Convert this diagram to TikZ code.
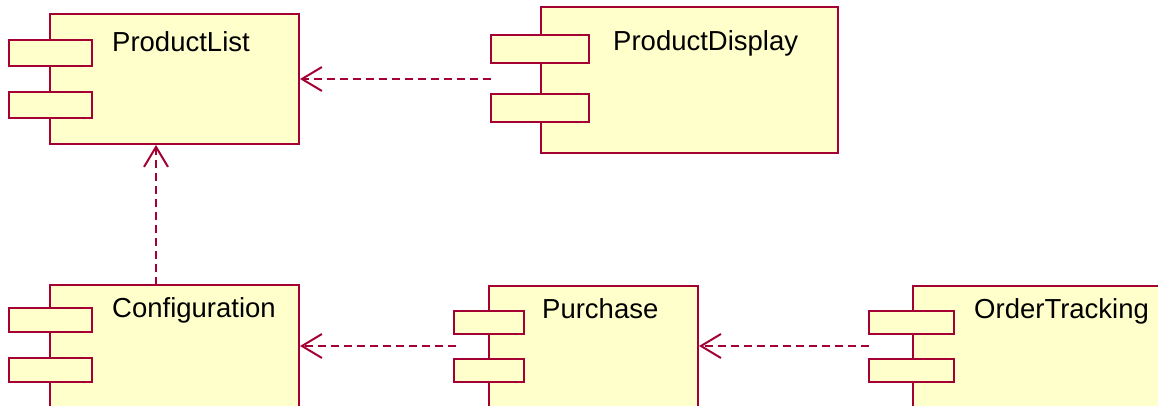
\documentclass[tikz,border=0pt]{standalone}
\usepackage{fontspec}
\setmainfont{Liberation Sans}
\usepackage{xcolor}
\usepackage{tikz}
\usetikzlibrary{arrows.meta}

\definecolor{umlborder}{RGB}{165,0,52}
\definecolor{umlfill}{RGB}{255,255,204}

\begin{document}
\begin{tikzpicture}[x=1pt, y=-1pt,
  body/.style={draw=umlborder, fill=umlfill, line width=2pt, rectangle, inner sep=0pt},
  port/.style={draw=umlborder, fill=umlfill, line width=2pt, rectangle, inner sep=0pt},
  title/.style={anchor=base west, inner sep=0pt, font=\fontsize{27.5}{30}\selectfont},
  dep/.style={draw=umlborder, line width=2pt, dash pattern=on 8pt off 5pt,
    -{Straight Barb[length=20pt, width=24pt]}}]
\clip (0,0) rectangle (1158,406);
\useasboundingbox (0,0) rectangle (1158,406);

% ProductList
\node[body, minimum width=249pt, minimum height=130pt] (pl) at (174.5,79) {};
\node[port, minimum width=83pt, minimum height=26pt] (pla) at (50.5,53) {};
\node[port, minimum width=83pt, minimum height=26pt] (plb) at (50.5,105) {};
\node[title] (pln) at (112,52) {ProductList};

% ProductDisplay
\node[body, minimum width=297pt, minimum height=146pt] (pd) at (689.5,80) {};
\node[port, minimum width=98pt, minimum height=28pt] (pda) at (540,49) {};
\node[port, minimum width=98pt, minimum height=28pt] (pdb) at (540,108) {};
\node[title] (pdn) at (613,51) {ProductDisplay};

% Configuration
\node[body, minimum width=249pt, minimum height=150pt] (cf) at (174.5,360) {};
\node[port, minimum width=83pt, minimum height=24pt] (cfa) at (50.5,320) {};
\node[port, minimum width=83pt, minimum height=24pt] (cfb) at (50.5,370) {};
\node[title] (cfn) at (112,317) {Configuration};

% Purchase
\node[body, minimum width=209pt, minimum height=150pt] (pu) at (593.5,361) {};
\node[port, minimum width=70pt, minimum height=23pt] (pua) at (489,322.5) {};
\node[port, minimum width=70pt, minimum height=23pt] (pub) at (489,370) {};
\node[title] (pun) at (542,318) {Purchase};

% OrderTracking
\node[body, minimum width=270pt, minimum height=150pt] (ot) at (1048,361) {};
\node[port, minimum width=85pt, minimum height=23pt] (ota) at (911.5,322.5) {};
\node[port, minimum width=85pt, minimum height=23pt] (otb) at (911.5,370) {};
\node[title] (otn) at (974,318) {OrderTracking};

% dependencies
\coordinate (pdout) at (491,79);
\coordinate (cfout) at (156,285);
\coordinate (puout) at (456,346);
\coordinate (otout) at (869,346);
\draw[dep] (pdout) -- (pdout -| pl.east);
\draw[dep] (cfout) -- (cfout |- pl.south);
\draw[dep] (puout) -- (puout -| cf.east);
\draw[dep] (otout) -- (otout -| pu.east);
\end{tikzpicture}
\end{document}
